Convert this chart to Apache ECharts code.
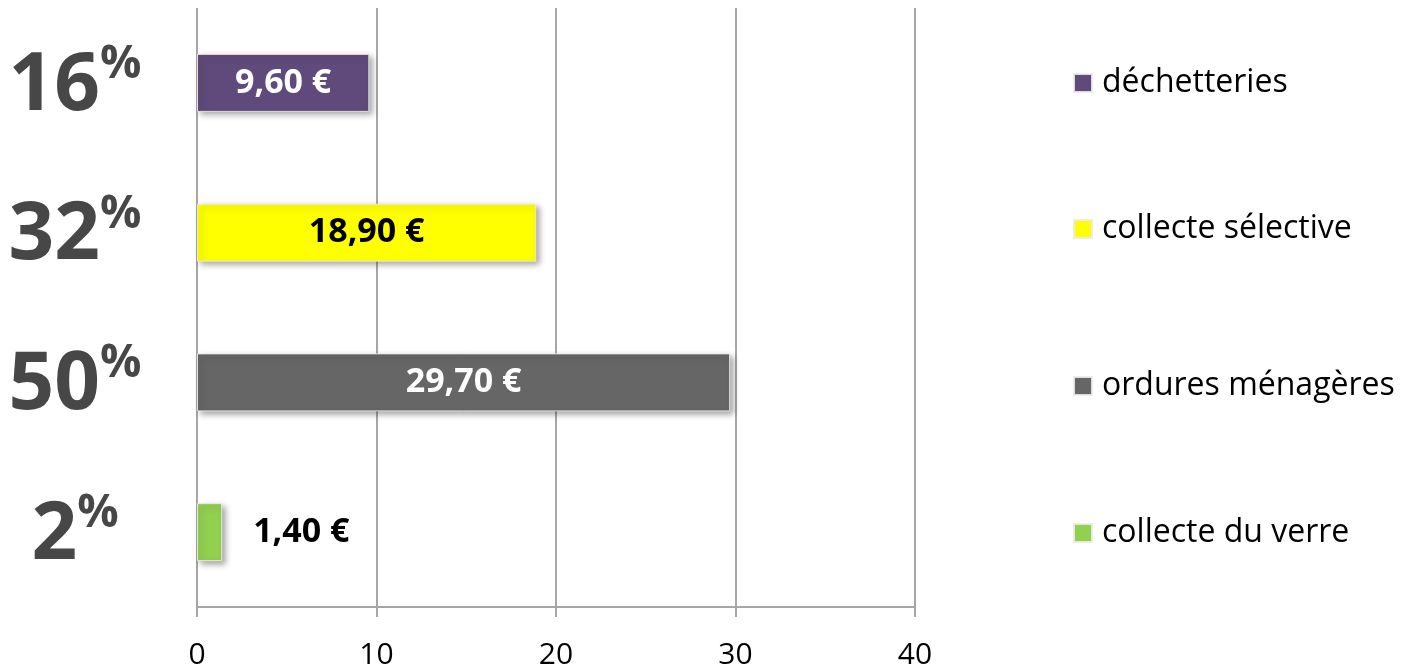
<!DOCTYPE html>
<html>
<head>
<meta charset="utf-8">
<script src="https://cdn.jsdelivr.net/npm/echarts@6/dist/echarts.min.js"></script>
<style>
  html, body { margin: 0; padding: 0; background: #fff; }
  #chart { width: 1410px; height: 670px; }
</style>
</head>
<body>
<div id="chart"></div>
<script>
// données
const categories = ['déchetteries', 'collecte sélective', 'ordures ménagères', 'collecte du verre'];
const values = [9.6, 18.9, 29.7, 1.4];
const percents = ['16', '32', '50', '2'];
const colors = ['#604A7B', '#FFFF00', '#666666', '#92D050'];
const labelColors = ['#ffffff', '#000000', '#ffffff', '#000000'];
const xTicks = [0, 10, 20, 30, 40];

const FONT = '"Open Sans", "Noto Sans", sans-serif';
const chart = echarts.init(document.getElementById('chart'));

// une série par catégorie pour avoir la légende à droite
const series = categories.map((name, i) => ({
  name: name,
  type: 'bar',
  stack: 'total',
  barWidth: 58,
  data: categories.map((c, j) => (j === i ? values[i] : '-')),
  itemStyle: {
    color: colors[i],
    borderColor: 'rgba(235,235,235,0.9)',
    borderWidth: 1,
    shadowBlur: 6,
    shadowOffsetX: 3,
    shadowOffsetY: 3,
    shadowColor: 'rgba(0,0,0,0.35)'
  },
  label: {
    show: true,
    position: values[i] < 5 ? 'right' : 'inside',
    distance: 31,
    color: labelColors[i],
    fontFamily: FONT,
    fontWeight: 'bold',
    fontSize: 34,
    formatter: p => p.value.toFixed(2).replace('.', ',') + ' €'
  }
}));

const legendTops = [62, 208, 365, 512];
const legends = categories.map((name, i) => ({
  data: [name],
  left: 1068,
  top: legendTops[i],
  icon: 'rect',
  itemWidth: 18,
  itemHeight: 18,
  selectedMode: false,
  textStyle: {
    fontFamily: FONT,
    fontSize: 32,
    color: '#000',
    padding: [0, 0, 0, 5]
  }
}));

chart.setOption({
  backgroundColor: '#ffffff',
  animation: false,
  grid: { left: 197, right: 495, top: 8, bottom: 62 },
  legend: legends,
  xAxis: {
    type: 'value',
    min: xTicks[0],
    max: xTicks[xTicks.length - 1],
    interval: 10,
    axisLine: { show: true, lineStyle: { color: '#A6A6A6', width: 2 } },
    axisTick: { show: true, length: 10, lineStyle: { color: '#A6A6A6', width: 2 } },
    splitLine: { show: true, lineStyle: { color: '#A6A6A6', width: 2 } },
    axisLabel: {
      margin: 33,
      color: '#000',
      fontFamily: FONT,
      fontSize: 30
    }
  },
  yAxis: {
    type: 'category',
    inverse: true,
    data: categories,
    axisLine: { show: false },
    axisTick: { show: false },
    axisLabel: {
      margin: 122,
      align: 'center',
      padding: [8, 0, 0, 0],
      formatter: v => '{n|' + percents[categories.indexOf(v)] + '}{p|%}',
      rich: {
        n: { fontFamily: FONT, fontWeight: 'bold', fontSize: 80, color: '#474747', lineHeight: 90 },
        p: { fontFamily: FONT, fontWeight: 'bold', fontSize: 46, color: '#474747', verticalAlign: 'top', lineHeight: 90 }
      }
    }
  },
  series: series
});
</script>
</body>
</html>
